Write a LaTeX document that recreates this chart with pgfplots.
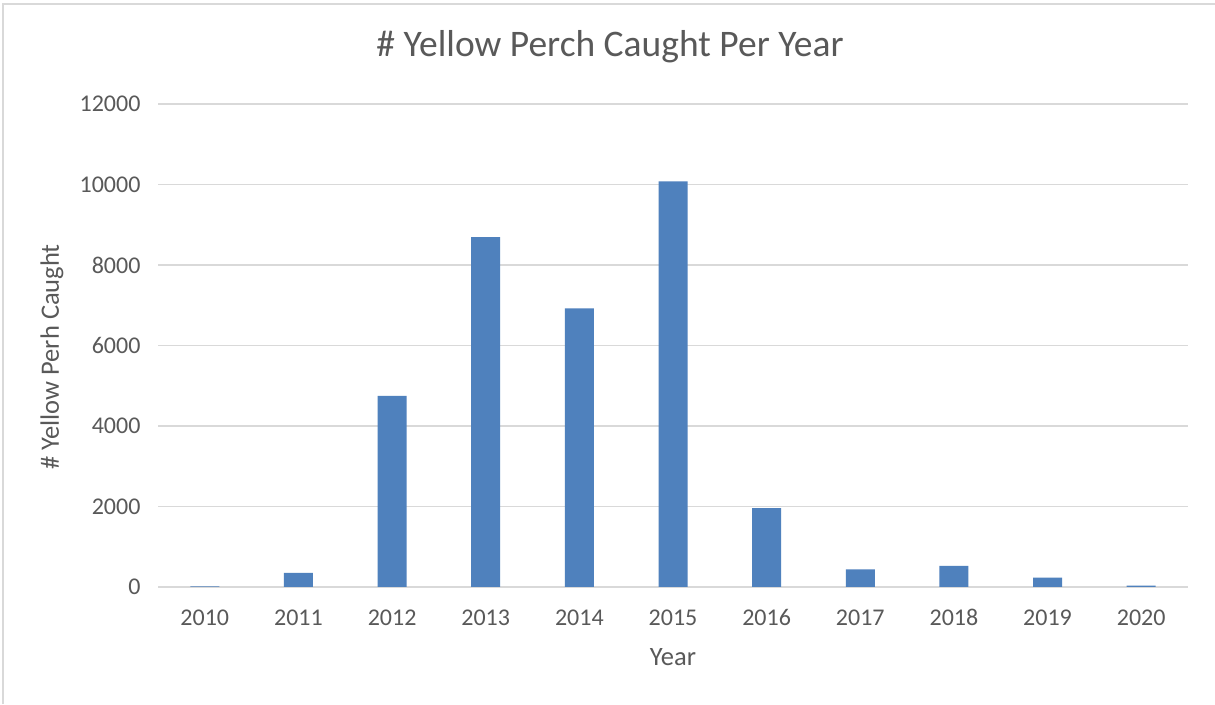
\documentclass[border=0pt]{standalone}
\usepackage{fontspec}
\setmainfont{Carlito}
\usepackage{pgfplots}
\usepackage{pgfplotstable}
\pgfplotsset{compat=1.18}
\definecolor{barblue}{HTML}{4F81BD}
\definecolor{txtgray}{HTML}{595959}
\definecolor{gridgray}{HTML}{D9D9D9}

% Yellow perch caught per year (index 0 = 2010)
\pgfplotstableread{
idx year count
0 2010 15
1 2011 350
2 2012 4750
3 2013 8690
4 2014 6920
5 2015 10080
6 2016 1960
7 2017 440
8 2018 525
9 2019 235
10 2020 35
}\perch

\begin{document}
\begin{tikzpicture}[x=1pt,y=1pt]
\useasboundingbox (0,0) rectangle (1215,704);
\fill[white] (0,0) rectangle (1215,704);
\draw[gridgray, line width=2pt] (3,0) -- (3,700) -- (1215,700);
\begin{axis}[
  at={(158pt,117pt)}, anchor=south west,
  scale only axis, width=1030pt, height=483pt,
  xmin=-0.5, xmax=10.5, ymin=0, ymax=12000,
  ytick={0,2000,...,12000},
  xtick={0,...,10},
  xticklabels={2010,2011,2012,2013,2014,2015,2016,2017,2018,2019,2020},
  scaled y ticks=false,
  /pgf/number format/assume math mode=true,
  /pgf/number format/1000 sep={},
  axis x line*=bottom, axis y line*=left,
  x axis line style={gridgray, line width=2pt, -},
  y axis line style={draw=none},
  major tick length=0pt,
  ymajorgrids,
  grid style={gridgray, line width=1.5pt},
  tick label style={font=\fontsize{24}{24}\selectfont, text=txtgray},
  yticklabel style={xshift=-14pt},
  xticklabel style={anchor=north, text height=16pt, text depth=0pt, yshift=-19pt},
  clip=false,
]
\addplot[ybar, bar width=29pt, fill=barblue, draw=none] table[x=idx, y=count] {\perch};
\end{axis}
\node[text=txtgray, font=\fontsize{37.5}{37.5}\selectfont] at (610,657) {\# Yellow Perch Caught Per Year};
\node[text=txtgray, font=\fontsize{26.5}{26.5}\selectfont, rotate=90] at (52,347) {\# Yellow Perh Caught};
\node[text=txtgray, font=\fontsize{26.5}{26.5}\selectfont] at (673,47) {Year};
\end{tikzpicture}
\end{document}
